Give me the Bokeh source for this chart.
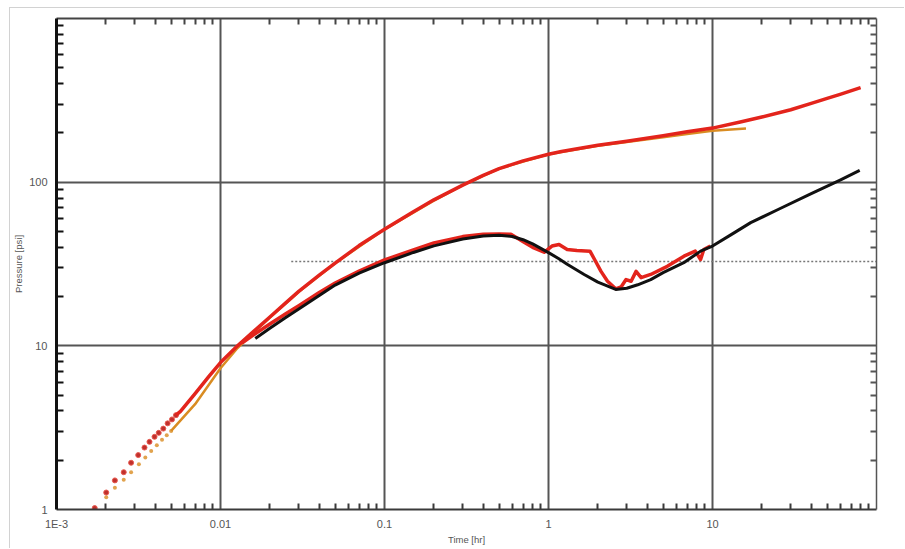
from bokeh.plotting import figure
from bokeh.models import FixedTicker, LogAxis, Range1d
from bokeh.embed import file_html
from bokeh.resources import INLINE

# Measured pressure change [psi] vs elapsed time [hr]
t_pres = [0.00171, 0.00201, 0.00227, 0.00257, 0.00285, 0.00315, 0.00344, 0.00369,
          0.00396, 0.0042, 0.00448, 0.00476, 0.00506, 0.00535,
          0.0057, 0.007, 0.0085, 0.01, 0.0127, 0.016, 0.02, 0.025, 0.03, 0.04,
          0.05, 0.07, 0.1, 0.15, 0.2, 0.3, 0.4, 0.5, 0.7, 1.0, 1.2, 1.5, 2.0, 3.0,
          5.0, 7.0, 10.0, 15.0, 20.0, 30.0, 40.0, 50.0, 60.0, 80.0]
p_pres = [1.02, 1.27, 1.506, 1.69, 1.93, 2.15, 2.39, 2.59,
          2.78, 2.94, 3.12, 3.36, 3.55, 3.77,
          3.98, 5.1, 6.5, 7.9, 10.0, 12.3, 15.0, 18.3, 21.5, 27.0,
          32.0, 41.0, 51.5, 66.0, 78.0, 96.0, 110.0, 121.0, 135.0, 148.0, 154.0, 160.0, 168.0, 178.0,
          192.0, 203.0, 214.0, 234.0, 250.0, 277.0, 303.0, 325.0, 344.0, 378.0]
n_sparse = 14  # early samples are drawn as separate points

# Model pressure
t_model = [0.00201, 0.00227, 0.00257, 0.00285, 0.00318, 0.00348, 0.00378, 0.00409,
           0.0044, 0.0047, 0.005,
           0.007, 0.01, 0.0127, 0.016, 0.02, 0.03, 0.05, 0.1, 0.2, 0.3, 0.5,
           1.0, 2.0, 3.0, 5.0, 7.0, 10.0, 16.0]
p_model = [1.19, 1.36, 1.52, 1.69, 1.89, 2.08, 2.28, 2.47,
           2.67, 2.84, 3.02,
           4.4, 7.3, 9.7, 12.1, 14.9, 21.4, 32.0, 51.5, 77.0, 96.0, 121.0,
           148.0, 167.0, 176.0, 188.0, 197.0, 206.0, 213.0]
n_model_sparse = 11

# Measured pressure derivative [psi]
t_deriv = [0.0135, 0.016, 0.02, 0.025, 0.03, 0.04, 0.05, 0.07, 0.1, 0.15, 0.2,
           0.3, 0.4, 0.5, 0.59, 0.71, 0.8, 0.94, 1.05, 1.16, 1.3, 1.49, 1.79,
           1.91, 2.09, 2.29, 2.57, 2.77, 2.97, 3.19, 3.42, 3.67, 4.2, 5.3, 6.7,
           7.85, 8.46, 8.85, 9.7]
p_deriv = [10.4, 11.7, 13.6, 15.7, 17.6, 21.2, 24.2, 28.6, 33.5, 38.5, 42.5,
           46.5, 48.0, 48.2, 48.0, 43.0, 40.0, 37.3, 40.7, 41.6, 38.8, 38.3, 37.9,
           33.7, 28.5, 24.8, 22.3, 22.9, 25.4, 24.8, 28.5, 26.1, 27.3, 30.6, 35.3,
           37.9, 33.7, 38.8, 40.7]

# Model derivative [psi]
t_dmodel = [0.0163, 0.02, 0.025, 0.03, 0.04, 0.05, 0.07, 0.1, 0.15, 0.2, 0.3,
            0.4, 0.5, 0.6, 0.7, 0.8, 1.0, 1.15, 1.3, 1.65, 2.0, 2.57, 3.0, 3.5, 4.2,
            5.0, 6.68, 8.46, 10.0, 13.0, 17.1, 25.3, 40.0, 60.0, 79.0]
p_dmodel = [11.1, 12.8, 14.9, 16.8, 20.3, 23.5, 27.8, 32.2, 37.2, 40.8, 45.0,
            46.9, 47.4, 46.6, 44.5, 42.0, 37.1, 34.2, 31.5, 27.3, 24.5, 22.1, 22.5, 23.6, 25.4,
            28.0, 32.2, 37.9, 40.7, 47.8, 56.6, 68.3, 85.0, 103.0, 118.0]

# Radial-flow stabilisation level
t_level = [0.027, 100.0]
p_level = [32.7, 32.7]

x_major = [1e-3, 1e-2, 1e-1, 1.0, 10.0]
x_minor = [m * 10.0 ** e for e in range(-3, 2) for m in range(2, 10)]
y_major = [1.0, 10.0, 100.0]
y_minor = [m * 10.0 ** e for e in range(0, 3) for m in range(2, 10)]

FONT = "Liberation Sans"
RED = "#e3241c"
ORANGE = "#d98c22"
TEXT = "#555555"

p = figure(width=895, height=541, x_axis_type="log", y_axis_type="log",
           x_range=Range1d(1e-3, 100), y_range=Range1d(1, 1000),
           output_backend="svg", toolbar_location=None,
           min_border_left=44, min_border_right=29, min_border_top=10,
           min_border_bottom=40, outline_line_color=None,
           background_fill_color="white", border_fill_color="white")
p.styles = {"margin-left": "9px", "margin-top": "7px",
            "border-left": "1px solid #d2d2d2", "border-top": "1px solid #d2d2d2"}

xt = FixedTicker(ticks=x_major, minor_ticks=x_minor)
yt = FixedTicker(ticks=y_major, minor_ticks=y_minor)

bx = p.below[0]
ly = p.left[0]
bx.ticker = xt
ly.ticker = yt
bx.major_label_overrides = {1e-3: "1E-3", 1e-2: "0.01", 1e-1: "0.1", 1.0: "1", 10.0: "10"}
ly.major_label_overrides = {1.0: "1", 10.0: "10", 100.0: "100"}
p.xgrid.ticker = xt
p.ygrid.ticker = yt
p.xgrid.grid_line_color = "#555555"
p.ygrid.grid_line_color = "#555555"
p.xgrid.grid_line_width = 2
p.ygrid.grid_line_width = 2

for ax, lw, col, tick in ((bx, 2, "#3a3a3a", 6), (ly, 3, "#111111", 7)):
    ax.axis_line_width = lw
    ax.axis_line_color = col
    ax.major_tick_in = 0
    ax.major_tick_out = 0
    ax.minor_tick_in = tick
    ax.minor_tick_out = 0
    ax.minor_tick_line_width = 2
    ax.minor_tick_line_color = col
    ax.major_label_text_font = FONT
    ax.major_label_text_font_size = "11px"
    ax.major_label_text_color = TEXT
    ax.axis_label_text_font = FONT
    ax.axis_label_text_font_size = "9.5px"
    ax.axis_label_text_font_style = "normal"
    ax.axis_label_text_color = TEXT

bx.axis_label = "Time [hr]"
bx.major_label_standoff = 8
bx.axis_label_standoff = 1
ly.axis_label = "Pressure [psi]"
ly.major_label_standoff = 9
ly.axis_label_standoff = 2

# Unlabelled frame axes on top and right carrying the minor ticks
top = LogAxis(ticker=FixedTicker(ticks=[], minor_ticks=x_minor))
right = LogAxis(ticker=FixedTicker(ticks=[], minor_ticks=y_minor))
for ax, lw, col in ((top, 2, "#444444"), (right, 1.5, "#555555")):
    ax.axis_line_width = lw
    ax.axis_line_color = col
    ax.major_tick_in = 0
    ax.major_tick_out = 0
    ax.minor_tick_in = 6
    ax.minor_tick_out = 0
    ax.minor_tick_line_width = 2
    ax.minor_tick_line_color = col
    ax.major_label_standoff = 0
p.add_layout(top, "above")
p.add_layout(right, "right")

# Stabilisation level
p.line(t_level, p_level, line_color="#777777", line_width=1.5, line_dash="2 2")

# Model pressure: sparse early points, then a thin line
p.scatter(t_model[:n_model_sparse], p_model[:n_model_sparse], size=4,
          marker="circle", fill_color=ORANGE, line_color=None, alpha=0.8)
p.line(t_model[n_model_sparse - 1:], p_model[n_model_sparse - 1:],
       line_color=ORANGE, line_width=2.5)

# Measured pressure
p.scatter(t_pres[:n_sparse], p_pres[:n_sparse], size=5, marker="circle",
          fill_color="#c0302c", line_color="#e85a50", line_width=1)
p.line(t_pres[n_sparse - 1:], p_pres[n_sparse - 1:], line_color=RED,
       line_width=3.5, line_join="round")

# Measured derivative
p.line(t_deriv, p_deriv, line_color=RED, line_width=3.5, line_join="round")

# Model derivative
p.line(t_dmodel, p_dmodel, line_color="#111111", line_width=3, line_join="round")

open("out.html", "w").write(file_html(p, INLINE))
